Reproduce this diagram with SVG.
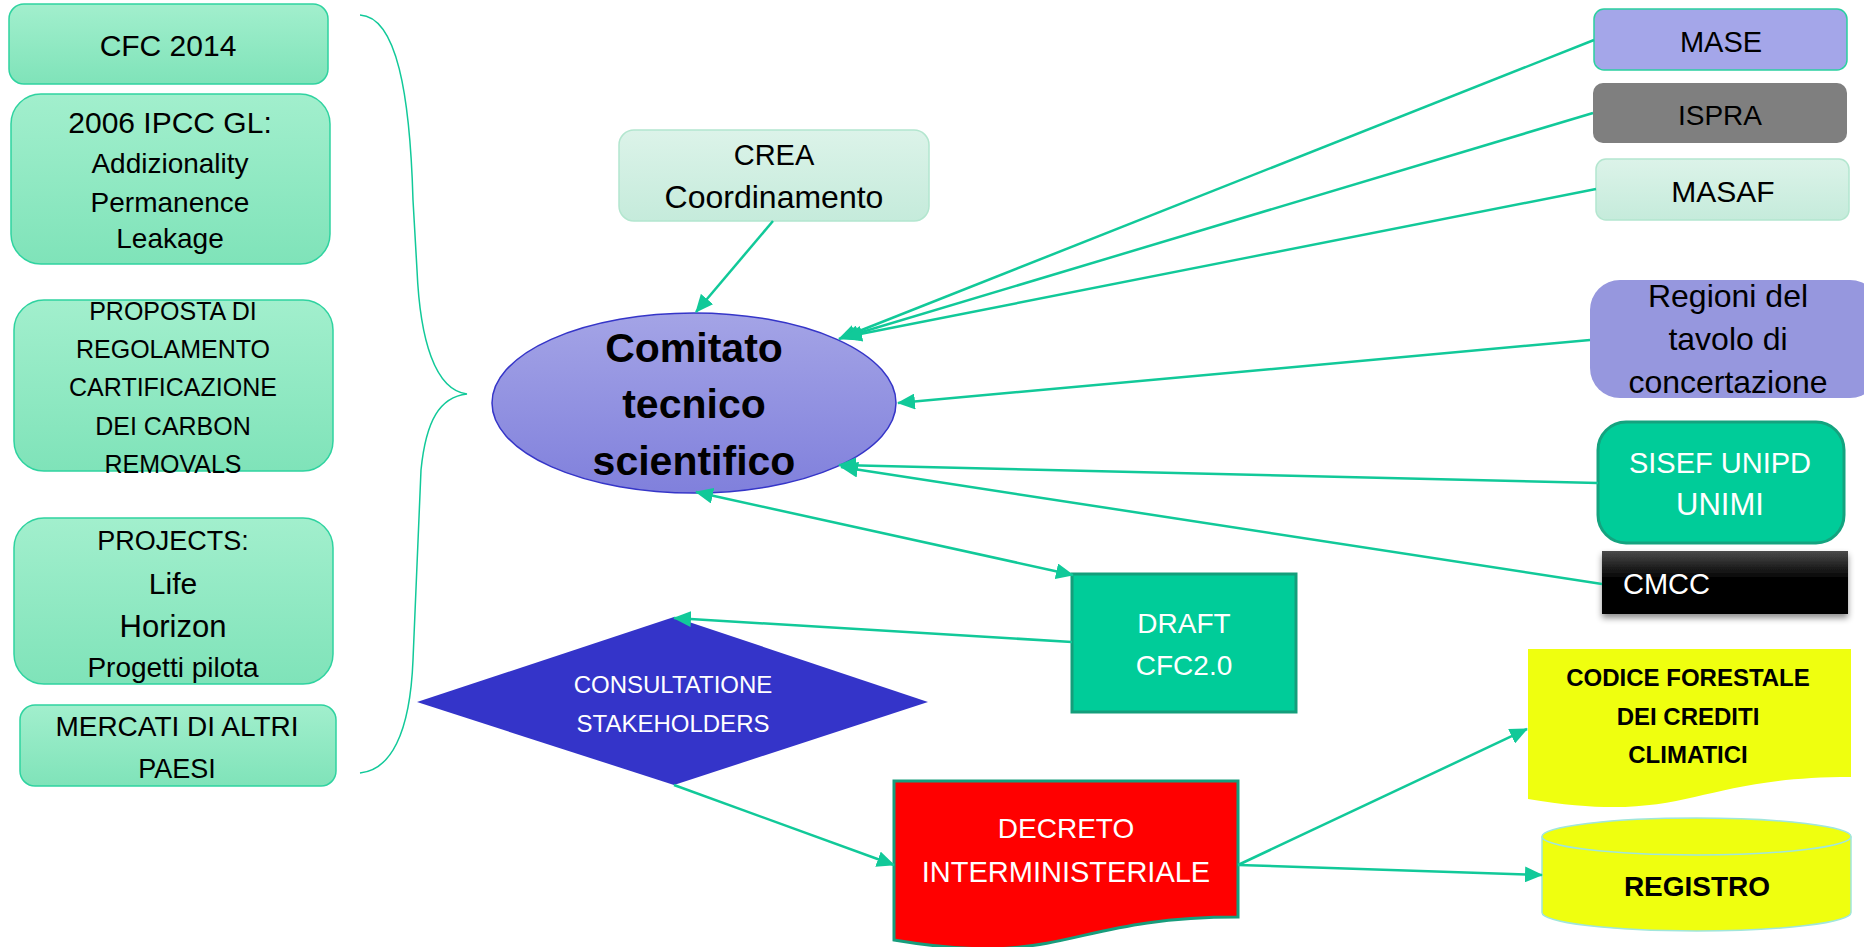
<svg xmlns="http://www.w3.org/2000/svg" width="1864" height="947" viewBox="0 0 1864 947">
<style>
text{font-family:"Liberation Sans",Arial,sans-serif;text-anchor:middle;fill:#000}
.w{fill:#fff}
.b{font-weight:bold}
.g{fill:url(#gGreen);stroke:#2fd3a0;stroke-width:1.5}
.lg{fill:url(#gLight);stroke:#b3e6cf;stroke-width:1.5}
.c{fill:none;stroke:#11c999;stroke-width:2.5}
</style>
<defs>
<linearGradient id="gGreen" x1="0" y1="0" x2="0" y2="1"><stop offset="0" stop-color="#a2efcd"/><stop offset="1" stop-color="#7fe3b9"/></linearGradient>
<linearGradient id="gLight" x1="0" y1="0" x2="0" y2="1"><stop offset="0" stop-color="#dcf3e9"/><stop offset="1" stop-color="#c5ebdb"/></linearGradient>
<linearGradient id="gEll" x1="0" y1="0" x2="0" y2="1"><stop offset="0" stop-color="#a4a4e6"/><stop offset="1" stop-color="#8080dc"/></linearGradient>
<linearGradient id="gBlack" x1="0" y1="0" x2="0" y2="1"><stop offset="0" stop-color="#4a4a4a"/><stop offset="0.45" stop-color="#000"/><stop offset="1" stop-color="#000"/></linearGradient>
<filter id="sh" x="-10%" y="-20%" width="120%" height="160%"><feDropShadow dx="0" dy="4" stdDeviation="3" flood-color="#000" flood-opacity="0.45"/></filter>
<marker id="ah" markerWidth="18" markerHeight="16" refX="17" refY="8" orient="auto-start-reverse" markerUnits="userSpaceOnUse"><path d="M0,0 L18,8 L0,16 z" fill="#11c999"/></marker>
</defs>

<g id="brace"><path d="M360,15 C397,17 410,95 413,200 L417,270 C420,340 435,390 467,394 C440,397 426,420 421,470 L413,660 C410,735 390,770 360,773" fill="none" stroke="#11c999" stroke-width="1.5"/></g>

<g id="cfc2014"><rect class="g" x="9" y="4" width="319" height="80" rx="15"/><text x="168" y="56" font-size="30">CFC 2014</text></g>
<g id="ipcc"><rect class="g" x="11" y="94" width="319" height="170" rx="30"/>
<text x="170" y="133" font-size="30">2006 IPCC GL:</text><text x="170" y="173" font-size="28">Addizionality</text><text x="170" y="212" font-size="28">Permanence</text><text x="170" y="248" font-size="28">Leakage</text></g>
<g id="proposta"><rect class="g" x="14" y="300" width="319" height="171" rx="30"/>
<text x="173" y="320" font-size="25">PROPOSTA DI</text><text x="173" y="358" font-size="25">REGOLAMENTO</text><text x="173" y="396" font-size="25">CARTIFICAZIONE</text><text x="173" y="435" font-size="25">DEI CARBON</text><text x="173" y="473" font-size="25">REMOVALS</text></g>
<g id="projects"><rect class="g" x="14" y="518" width="319" height="166" rx="30"/>
<text x="173" y="550" font-size="27">PROJECTS:</text><text x="173" y="594" font-size="30">Life</text><text x="173" y="637" font-size="31">Horizon</text><text x="173" y="677" font-size="28">Progetti pilota</text></g>
<g id="mercati"><rect class="g" x="20" y="705" width="316" height="81" rx="15"/>
<text x="177" y="736" font-size="28">MERCATI DI ALTRI</text><text x="177" y="778" font-size="27">PAESI</text></g>

<g id="crea"><rect class="lg" x="619" y="130" width="310" height="91" rx="15"/>
<text x="774" y="165" font-size="29">CREA</text><text x="774" y="208" font-size="32">Coordinamento</text></g>

<g id="comitato"><ellipse cx="694" cy="403" rx="202" ry="90" fill="url(#gEll)" stroke="#3535c8" stroke-width="1.5"/>
<text class="b" x="694" y="362" font-size="41">Comitato</text><text class="b" x="694" y="418" font-size="41">tecnico</text><text class="b" x="694" y="475" font-size="41">scientifico</text></g>

<g id="mase"><rect x="1594" y="9" width="253" height="61" rx="10" fill="#a4a6e9" stroke="#2ad0a0" stroke-width="1.5"/><text x="1721" y="52" font-size="29">MASE</text></g>
<g id="ispra"><rect x="1593" y="83" width="254" height="60" rx="10" fill="#7f7f7f"/><text x="1720" y="125" font-size="28">ISPRA</text></g>
<g id="masaf"><rect class="lg" x="1596" y="159" width="253" height="61" rx="10"/><text x="1723" y="202" font-size="30">MASAF</text></g>
<g id="regioni"><rect x="1590" y="280" width="290" height="118" rx="30" fill="#9697de"/>
<text x="1728" y="307" font-size="32">Regioni del</text><text x="1728" y="350" font-size="32">tavolo di</text><text x="1728" y="393" font-size="32">concertazione</text></g>
<g id="sisef"><rect x="1598" y="422" width="246" height="121" rx="28" fill="#00cc99" stroke="#14a37f" stroke-width="3"/>
<text class="w" x="1720" y="473" font-size="29">SISEF UNIPD</text><text class="w" x="1720" y="515" font-size="31">UNIMI</text></g>
<g id="cmcc"><rect x="1602" y="551" width="246" height="63" fill="url(#gBlack)" filter="url(#sh)"/>
<text class="w" x="1623" y="594" font-size="29" style="text-anchor:start">CMCC</text></g>

<g id="draft"><rect x="1072" y="574" width="224" height="138" fill="#00cc99" stroke="#149e7b" stroke-width="3"/>
<text class="w" x="1184" y="633" font-size="28">DRAFT</text><text class="w" x="1184" y="675" font-size="28">CFC2.0</text></g>
<g id="consultatione"><path d="M674,617 L928,702 L674,785 L417,702 Z" fill="#3434c9"/>
<text class="w" x="673" y="693" font-size="24">CONSULTATIONE</text><text class="w" x="673" y="732" font-size="24">STAKEHOLDERS</text></g>
<g id="decreto"><path d="M894,781 H1238 V917 C1066,917 1066,969 894,940 Z" fill="#ff0000" stroke="#179d7c" stroke-width="3"/>
<text class="w" x="1066" y="838" font-size="28">DECRETO</text><text class="w" x="1066" y="882" font-size="29">INTERMINISTERIALE</text></g>
<g id="codice"><path d="M1528,649 H1851 V777 C1689.5,777 1689.5,826 1528,799 Z" fill="#efff0f"/>
<text class="b" x="1688" y="686" font-size="24">CODICE FORESTALE</text><text class="b" x="1688" y="725" font-size="24">DEI CREDITI</text><text class="b" x="1688" y="763" font-size="24">CLIMATICI</text></g>
<g id="registro"><path d="M1542,836.5 V912.5 A154.5,18.5 0 0 0 1851,912.5 V836.5" fill="#efff0f" stroke="#a0e6dc" stroke-width="1.5"/>
<ellipse cx="1696.5" cy="836.5" rx="154.5" ry="18.5" fill="#efff0f" stroke="#a0e6dc" stroke-width="1.5"/>
<text class="b" x="1697" y="896" font-size="28">REGISTRO</text></g>

<g id="connectors">
<path class="c" d="M773,221 L696,312" marker-end="url(#ah)"/>
<path class="c" d="M1594,40 L839,339" marker-end="url(#ah)"/>
<path class="c" d="M1593,113 L842,338" marker-end="url(#ah)"/>
<path class="c" d="M1596,189 L845,337" marker-end="url(#ah)"/>
<path class="c" d="M1590,340 L898,403" marker-end="url(#ah)"/>
<path class="c" d="M1598,483 L839,465" marker-end="url(#ah)"/>
<path class="c" d="M1602,584 L841,467" marker-end="url(#ah)"/>
<path class="c" d="M696,492 L1073,575" marker-start="url(#ah)" marker-end="url(#ah)"/>
<path class="c" d="M1072,642 L674,618" marker-end="url(#ah)"/>
<path class="c" d="M674,785 L894,865" marker-end="url(#ah)"/>
<path class="c" d="M1238,865 L1527,729" marker-end="url(#ah)"/>
<path class="c" d="M1238,865 L1542,875" marker-end="url(#ah)"/>
</g>
</svg>
